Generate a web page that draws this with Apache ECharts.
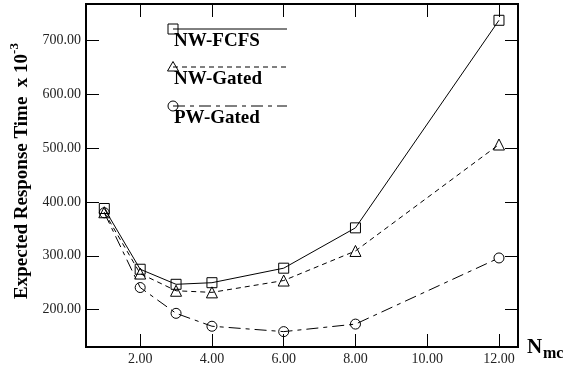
<!DOCTYPE html>
<html>
<head>
<meta charset="utf-8">
<script src="https://cdn.jsdelivr.net/npm/echarts@6/dist/echarts.min.js"></script>
<style>
  html, body { margin: 0; padding: 0; background: #fff; }
  #chart { width: 573px; height: 373px; }
</style>
</head>
<body>
<div id="chart"></div>
<script>
// Number of mobile clients on the x axis
const nmc = [1, 2, 3, 4, 6, 8, 12];
// Expected response time (x 10^-3) per scheduling scheme
const nwFcfs = [388, 275, 247, 250, 277, 352, 738];
const nwGated = [381, 267, 235, 232, 254, 309, 507];
const pwGated = [380, 241, 193, 169, 159, 173, 296];
// Axis tick positions
const xTicks = [2, 4, 6, 8, 10, 12];
const yTicks = [200, 300, 400, 500, 600, 700];
const seriesNames = ['NW-FCFS', 'NW-Gated', 'PW-Gated'];

const FONT = '"Liberation Serif", "Times New Roman", serif';
const pair = (ys) => nmc.map((x, i) => [x, ys[i]]);

const chart = echarts.init(document.getElementById('chart'), null, { renderer: 'canvas' });

const tickStyle = { lineStyle: { color: '#000', width: 1 } };

function xAxis(pos, labels) {
  return {
    type: 'value', position: pos, min: 0.49, max: 12.53,
    axisLine: { show: false },
    axisTick: Object.assign({ show: true, inside: true, length: 13, customValues: xTicks }, tickStyle),
    axisLabel: {
      show: labels, customValues: xTicks, margin: 5,
      formatter: (v) => v.toFixed(2),
      fontFamily: FONT, fontSize: 14, color: '#222'
    },
    splitLine: { show: false }
  };
}
function yAxis(pos, labels) {
  return {
    type: 'value', position: pos, min: 130.4, max: 768.3,
    axisLine: { show: false },
    axisTick: Object.assign({ show: true, inside: true, length: 13, customValues: yTicks }, tickStyle),
    axisLabel: {
      show: labels, customValues: yTicks, margin: 5,
      formatter: (v) => v.toFixed(2),
      fontFamily: FONT, fontSize: 14, color: '#222'
    },
    splitLine: { show: false }
  };
}

function lineSeries(name, ys, symbol, size, dash) {
  return {
    name, type: 'line', data: pair(ys),
    xAxisIndex: 0, yAxisIndex: 0,
    symbol, symbolSize: size, showAllSymbol: true,
    lineStyle: { color: '#000', width: 1, type: dash },
    itemStyle: { color: 'rgba(0,0,0,0)', borderColor: '#000', borderWidth: 1 },
    emphasis: { disabled: true },
    z: 3
  };
}

// Legend drawn as lines with the symbol at the left end and the name beneath
const legendRows = [
  { y: 29, dash: null, sym: 'rect' },
  { y: 67, dash: [5, 4], sym: 'tri' },
  { y: 106, dash: [12, 5, 4, 5], sym: 'circle' }
];
const legendX0 = 173, legendX1 = 287;
const legendGraphics = [];
legendRows.forEach((r, i) => {
  legendGraphics.push({
    type: 'line', shape: { x1: legendX0, y1: r.y, x2: legendX1, y2: r.y },
    style: { stroke: '#000', lineWidth: 1, lineDash: r.dash || null }
  });
  if (r.sym === 'rect') {
    legendGraphics.push({ type: 'rect', shape: { x: legendX0 - 5, y: r.y - 5, width: 10, height: 10 },
      style: { fill: 'none', stroke: '#000', lineWidth: 1 } });
  } else if (r.sym === 'tri') {
    legendGraphics.push({ type: 'polygon', shape: { points: [[legendX0, r.y - 5.5], [legendX0 - 5.5, r.y + 4], [legendX0 + 5.5, r.y + 4]] },
      style: { fill: 'none', stroke: '#000', lineWidth: 1 } });
  } else {
    legendGraphics.push({ type: 'circle', shape: { cx: legendX0, cy: r.y, r: 5 },
      style: { fill: 'none', stroke: '#000', lineWidth: 1 } });
  }
  legendGraphics.push({
    type: 'text', x: legendX0 + 1, y: r.y + 12,
    style: { text: seriesNames[i], fontFamily: FONT, fontWeight: 'bold', fontSize: 19,
      fill: '#000', textAlign: 'left', textVerticalAlign: 'middle' }
  });
});

chart.setOption({
  animation: false,
  backgroundColor: '#fff',
  grid: { left: 86, right: 55, top: 4, bottom: 26, show: true,
    borderColor: '#000', borderWidth: 2, backgroundColor: 'transparent' },
  xAxis: [xAxis('bottom', true), xAxis('top', false)],
  yAxis: [yAxis('left', true), yAxis('right', false)],
  series: [
    lineSeries(seriesNames[0], nwFcfs, 'rect', 10, 'solid'),
    lineSeries(seriesNames[1], nwGated, 'triangle', 11, [5, 4]),
    lineSeries(seriesNames[2], pwGated, 'circle', 10, [12, 5, 4, 5])
  ],
  graphic: legendGraphics.concat([
    {
      type: 'text', x: 20, y: 171, rotation: Math.PI / 2,
      style: {
        text: '{t|Expected Response Time  x 10}{s|-3}',
        textAlign: 'center', textVerticalAlign: 'middle',
        rich: {
          t: { fontFamily: FONT, fontWeight: 'bold', fontSize: 19, fill: '#000', lineHeight: 24, verticalAlign: 'bottom' },
          s: { fontFamily: FONT, fontWeight: 'bold', fontSize: 13, fill: '#000', lineHeight: 24, verticalAlign: 'top' }
        }
      }
    },
    {
      type: 'text', x: 527, y: 348,
      style: { text: 'N', fontFamily: FONT, fontWeight: 'bold', fontSize: 21, fill: '#000',
        textAlign: 'left', textVerticalAlign: 'middle' }
    },
    {
      type: 'text', x: 543, y: 354,
      style: { text: 'mc', fontFamily: FONT, fontWeight: 'bold', fontSize: 16, fill: '#000',
        textAlign: 'left', textVerticalAlign: 'middle' }
    }
  ])
});
</script>
</body>
</html>
